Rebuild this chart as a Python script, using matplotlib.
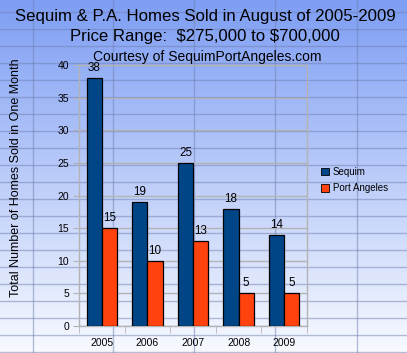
import numpy as np
import matplotlib
matplotlib.use("Agg")
import matplotlib.pyplot as plt

years = ["2005", "2006", "2007", "2008", "2009"]
sequim = [38, 19, 25, 18, 14]
port_angeles = [15, 10, 13, 5, 5]
series_names = ["Sequim", "Port Angeles"]
colors = ["#004586", "#ff420e"]

W, H = 407, 353
fig = plt.figure(figsize=(W / 100, H / 100), dpi=100)

# background gradient + spreadsheet grid
bg = fig.add_axes([0, 0, 1, 1], zorder=0)
bg.set_xlim(0, W)
bg.set_ylim(H, 0)
bg.axis("off")
top = np.array([126, 158, 244]) / 255
bot = np.array([248, 250, 255]) / 255
t = np.linspace(0, 1, 256)[:, None]
grad = top[None, :] * (1 - t) + bot[None, :] * t
img = np.repeat(grad[:, None, :], 2, axis=1)
bg.imshow(img, extent=[0, W, H, 0], aspect="auto", interpolation="bilinear")
for yy in np.arange(12, H, 17):
    bg.axhline(yy, color="#6f80b0", alpha=0.5, lw=1)
for xx in [33, 113, 194, 275, 357]:
    bg.axvline(xx, color="#6f80b0", alpha=0.5, lw=1)

# titles
fam = ["Liberation Sans", "DejaVu Sans"]
fig.text(205 / W, 1 - 17 / H, "Sequim & P.A. Homes Sold in August of 2005-2009",
         ha="center", va="center", fontsize=12.1, family=fam, usetex=False)
fig.text(205 / W, 1 - 37 / H, r"Price Range:  \$275,000 to \$700,000",
         ha="center", va="center", fontsize=12.1, family=fam)
fig.text(207 / W, 1 - 57 / H, "Courtesy of SequimPortAngeles.com",
         ha="center", va="center", fontsize=10, family=fam)

ax = fig.add_axes([79 / W, 27 / H, 228 / W, 261 / H], zorder=2)
ax.patch.set_alpha(0)
x = np.arange(len(years))
bw = 1 / 3
for i, (vals, c, name) in enumerate(zip([sequim, port_angeles], colors, series_names)):
    pos = x - bw / 2 + i * bw
    bars = ax.bar(pos, vals, width=bw, color=c, edgecolor="black", lw=0.9,
                  label=name, zorder=3)
    for b, v in zip(bars, vals):
        ax.text(b.get_x() + b.get_width() / 2, v + 0.6, str(v), ha="center",
                va="bottom", fontsize=8.4, family=fam)

ax.set_xlim(-0.5, 4.5)
ax.set_ylim(0, 40)
ax.set_yticks(range(0, 41, 5))
ax.set_xticks(x)
ax.set_xticklabels(years, fontsize=7.5, family=fam)
ax.set_xticks(np.arange(-0.5, 5, 1), minor=True)
ax.tick_params(axis="x", which="major", length=0, pad=9)
ax.tick_params(axis="x", which="minor", length=5, color="#b3b3b3", direction="out")
ax.tick_params(axis="y", length=4, color="#b3b3b3", direction="out", labelsize=7.5, pad=3)
for lab in ax.get_yticklabels():
    lab.set_family(fam)
ax.yaxis.grid(True, color="#b3b3b3", lw=1, zorder=1)
ax.set_axisbelow(True)
for s in ax.spines.values():
    s.set_color("#b3b3b3")
    s.set_linewidth(1)
ax.set_ylabel("Total Number of Homes Sold in One Month", fontsize=9, family=fam)
ax.yaxis.set_label_coords(-57 / 228, (326 - 178) / 261)

leg = fig.legend(loc="upper left", bbox_to_anchor=(321 / W, 1 - 167 / H),
                 frameon=False, prop={"family": fam, "size": 7},
                 handlelength=0.8, handleheight=0.8, handletextpad=0.4,
                 labelspacing=0.65, borderaxespad=0, borderpad=0)
for p in leg.get_patches():
    p.set_edgecolor("black")
    p.set_linewidth(0.6)

fig.savefig("out.png", dpi=100)
